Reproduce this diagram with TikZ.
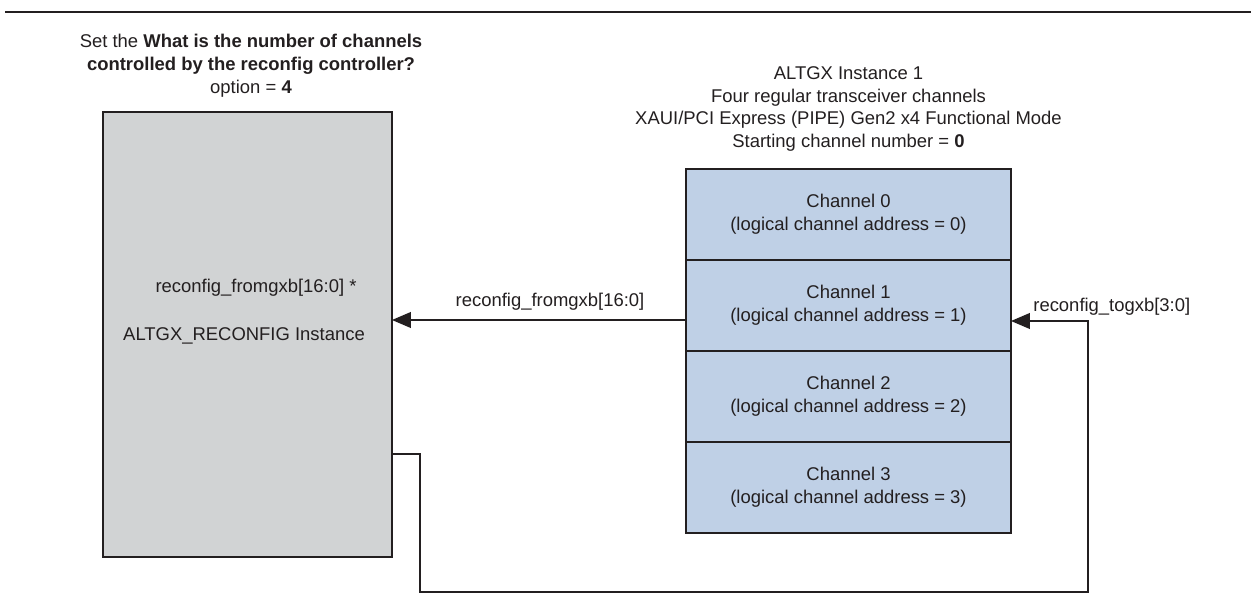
\documentclass[tikz,border=0pt]{standalone}
\usepackage{fontspec}
\setmainfont{Liberation Sans}
\usetikzlibrary{arrows.meta,positioning}
\definecolor{ink}{HTML}{231F20}
\definecolor{ctrlfill}{HTML}{D1D3D4}
\definecolor{chanfill}{HTML}{BFD0E6}
\tikzset{
  txt/.style={font=\fontsize{10.5}{13}\selectfont, text=ink, align=center, inner sep=0pt},
  ctrl/.style={draw=ink, line width=0.8pt, fill=ctrlfill, minimum width=5.78cm,
    minimum height=8.9cm, outer sep=0pt},
  chan/.style={draw=ink, line width=0.8pt, fill=chanfill, minimum width=6.5cm,
    minimum height=1.82cm, outer sep=0pt, txt},
  sig/.style={-{Triangle[length=10.8pt, width=9pt]}, draw=ink, line width=0.8pt},
}

\begin{document}
\begin{tikzpicture}[x=0.02cm, y=-0.02cm]
\useasboundingbox (0,0) rectangle (1251,604);

% rule under the (cut off) caption
\draw[ink, line width=1.6pt] (5,12) -- (1251,12);

% reconfig controller
\node[txt] (setopt) at (251,66) {Set the \textbf{What is the number of channels}\\
  \textbf{controlled by the reconfig controller?}\\option = \textbf{4}};
\node[ctrl] (cfg) at (247.5,334.5) {};
\node[txt] (fromin) at (256,288) {reconfig\_fromgxb[16:0] *};
\node[txt] (cfgname) at (244,336) {ALTGX\_RECONFIG Instance};

% ALTGX instance with its four channels
\node[txt] (inst) at (848.5,109) {ALTGX Instance 1\\Four regular transceiver channels\\
  XAUI/PCI Express (PIPE) Gen2 x4 Functional Mode\\Starting channel number = \textbf{0}};
\node[chan] (ch0) at (848.5,214.5) {Channel 0\\(logical channel address = 0)};
\node[chan, below=0pt of ch0] (ch1) {Channel 1\\(logical channel address = 1)};
\node[chan, below=0pt of ch1] (ch2) {Channel 2\\(logical channel address = 2)};
\node[chan, below=0pt of ch2] (ch3) {Channel 3\\(logical channel address = 3)};

% signals
\coordinate (cfgout) at (cfg.east |- 0,454);
\coordinate (down) at (420,454);
\coordinate (corner) at (420,592);
\coordinate (rcorner) at (1088,592);
\coordinate (up) at (1088,321);
\draw[sig] (ch1.west |- 0,320) -- (cfg.east |- 0,320);
\node[txt, anchor=base] (fromlbl) at (550,307) {reconfig\_fromgxb[16:0]};
\draw[sig] (cfgout) -- (down) -- (corner) -- (rcorner) -- (up) -- (ch1.east |- up);
\node[txt, anchor=base west] (tolbl) at (1033,312) {reconfig\_togxb[3:0]};

\end{tikzpicture}
\end{document}
